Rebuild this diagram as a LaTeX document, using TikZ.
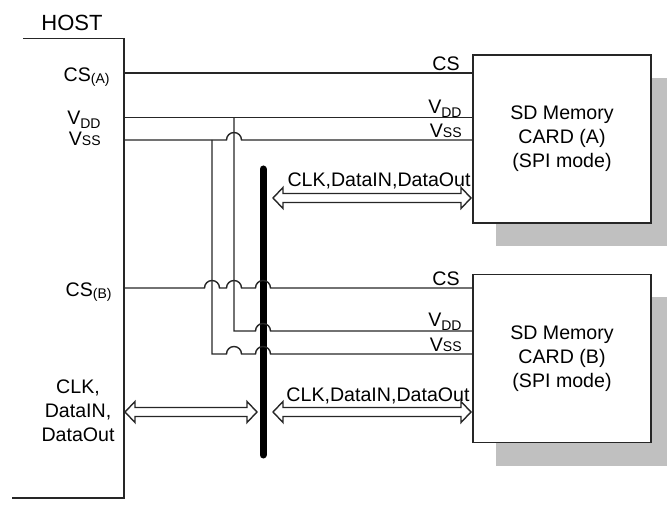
\documentclass[tikz,border=0pt]{standalone}
\usepackage{fontspec}
\setmainfont{Liberation Sans}
\usetikzlibrary{calc}
\definecolor{shadowgray}{RGB}{192,192,192}
\newcommand\subtxt[1]{{\fontsize{7}{8}\selectfont #1}}
\newcommand\fatarrow[2]{%
  \draw[wire,line join=miter] (#1) -- ($(#1)+(10,-10.5)$) -- ($(#1)+(10,-4.5)$)
   -- ($(#2)+(-10,-4.5)$) -- ($(#2)+(-10,-10.5)$) -- (#2)
   -- ($(#2)+(-10,10.5)$) -- ($(#2)+(-10,4.5)$) -- ($(#1)+(10,4.5)$)
   -- ($(#1)+(10,10.5)$) -- cycle;}
\begin{document}
\begin{tikzpicture}[x=0.5pt,y=-0.5pt,
  wire/.style={draw=black!85,line width=0.7pt},
  lbl/.style={font=\fontsize{9.8}{12}\selectfont,inner sep=0pt},
  card/.style={draw=black!85,line width=0.7pt,fill=white,minimum width=89pt,minimum height=84pt,
    align=center,font=\fontsize{9.8}{12}\selectfont,inner sep=0pt},
  shadowbox/.style={fill=shadowgray,draw=none,minimum width=89pt,minimum height=84pt,inner sep=0pt},
  bus/.style={line width=3.5pt,line cap=round,draw=black}]
\useasboundingbox (0,0) rectangle (667,506);
\clip (0,0) rectangle (667,506);
% cards with shadows
\node[shadowbox] (shA) at (585,162) {};
\node[card] (cardA) at (562,139) {SD Memory\\CARD (A)\\(SPI mode)};
\node[shadowbox] (shB) at (585,381.5) {};
\node[card] (cardB) at (562,358.5) {SD Memory\\CARD (B)\\(SPI mode)};
% host
\coordinate (htl) at (23,38.5);
\coordinate (htr) at (124,38.5);
\coordinate (hbr) at (124,498);
\coordinate (hbl) at (12,498);
\draw[wire] (htl) -- (htr) -- (hbr) -- (hbl);
\node[lbl,font=\fontsize{11}{13}\selectfont] (host) at (72,23) {HOST};
% host labels
\node[lbl,anchor=base east] (lcsA) at (110,82) {CS\raisebox{-1pt}{\subtxt{(A)}}};
\node[lbl,anchor=base east] (lvdd) at (101,125) {V\raisebox{-1.6pt}{\subtxt{DD}}};
\node[lbl,anchor=base east] (lvss) at (101,146) {V\subtxt{SS}};
\node[lbl,anchor=base east] (lcsB) at (112,297) {CS\raisebox{-1pt}{\subtxt{(B)}}};
\node[lbl,align=center] (lclk) at (78,411) {CLK,\\DataIN,\\DataOut};
% bus
\coordinate (busT) at (263,169);
\coordinate (busB) at (263,455);
\draw[bus] (busT) -- (busB);
% host side coordinates
\coordinate (hcsA) at (124,73);
\coordinate (hvdd) at (124,117.5);
\coordinate (hvss) at (124,140);
\coordinate (hcsB) at (124,288);
\coordinate (vddB) at (234,331);
\coordinate (vssB) at (212,354);
\coordinate (vddT) at (234,117.5);
\coordinate (vssT) at (212,140);
% card A lines
\draw[wire] (hcsA) -- (hcsA -| cardA.west);
\draw[wire] (hvdd) -- (hvdd -| cardA.west);
\draw[wire] (hvss) -- (226.5,140) arc[start angle=180,end angle=360,radius=7.5] -- (hvss -| cardA.west);
% verticals and card B lines
\draw[wire] (vddT) -- (vddB) -- (255.5,331) arc[start angle=180,end angle=360,radius=7.5] -- (vddB -| cardB.west);
\draw[wire] (vssT) -- (vssB) -- (226.5,354) arc[start angle=180,end angle=360,radius=7.5]
   -- (255.5,354) arc[start angle=180,end angle=360,radius=7.5] -- (vssB -| cardB.west);
\draw[wire] (hcsB) -- (204.5,288) arc[start angle=180,end angle=360,radius=7.5]
   -- (226.5,288) arc[start angle=180,end angle=360,radius=7.5]
   -- (255.5,288) arc[start angle=180,end angle=360,radius=7.5] -- (hcsB -| cardB.west);
% right side labels
\node[lbl,anchor=base east] (rcsA) at (460,71) {CS};
\node[lbl,anchor=base east] (rvddA) at (462,114) {V\raisebox{-1.6pt}{\subtxt{DD}}};
\node[lbl,anchor=base east] (rvssA) at (462,138) {V\subtxt{SS}};
\node[lbl,anchor=base east] (rcsB) at (460,286) {CS};
\node[lbl,anchor=base east] (rvddB) at (462,327) {V\raisebox{-1.6pt}{\subtxt{DD}}};
\node[lbl,anchor=base east] (rvssB) at (462,352) {V\subtxt{SS}};
% data arrows
\coordinate (aAl) at (273,198);
\coordinate (aAr) at (471,198);
\coordinate (hclk) at (125,412);
\coordinate (busL) at (257,412);
\coordinate (aBl) at (273,412);
\coordinate (aBr) at (471,412);
\fatarrow{aAl}{aAr}
\fatarrow{hclk}{busL}
\fatarrow{aBl}{aBr}
\node[lbl,anchor=base] (dA) at (379,187) {CLK,DataIN,DataOut};
\node[lbl,anchor=base] (dB) at (378,401) {CLK,DataIN,DataOut};
\end{tikzpicture}
\end{document}
